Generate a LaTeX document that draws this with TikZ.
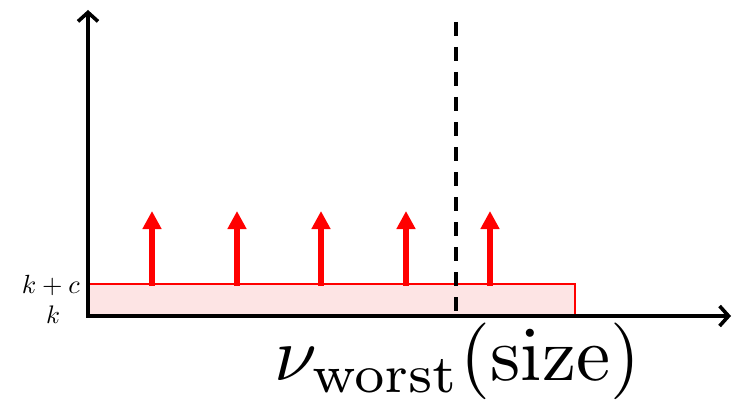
\documentclass[tikz,border=0pt]{standalone}
\usetikzlibrary{arrows.meta}
\definecolor{pinkfill}{HTML}{FDE4E4}
\begin{document}
\begin{tikzpicture}[x=1pt,y=-1pt,
  axis/.style={line width=3.6pt,-{Straight Barb[length=9pt,width=20pt]}},
  redarrow/.style={red,line width=6pt,-{Triangle[length=18pt,width=18pt]}},
  lbl/.style={inner sep=0pt}]
\useasboundingbox (0,0) rectangle (734,404);
\coordinate (o) at (88,316);
\coordinate (ytop) at (88,10);
\coordinate (xend) at (731,316);
\coordinate (dtop) at (456,22);
\coordinate (dbot) at (456,316);
\node[draw=red,line width=1.8pt,fill=pinkfill,minimum width=486pt,minimum height=31pt,anchor=south west,inner sep=0pt] (band) at (88,316) {};
\draw[line width=3.2pt,dash pattern=on 14pt off 11pt] (dtop) -- (dbot);
\foreach \i/\x in {1/152,2/237,3/321,4/406,5/490}{
  \coordinate (b\i) at (\x,285.5);
  \coordinate (t\i) at (\x,211);
  \draw[redarrow] (b\i) -- (t\i);
}
\draw[axis] (86,316) -- (xend);
\draw[axis] (88,317.8) -- (ytop);
\node[lbl,anchor=base east] (kc) at (80,293) {\resizebox{58pt}{!}{$k+c$}};
\node[lbl,anchor=base west] (k) at (46,323) {\resizebox{14pt}{!}{$k$}};
\node[inner sep=0pt,anchor=north west] (nu) at (274,323) {\resizebox{366pt}{!}{$\nu_{\mathrm{worst}}(\mathrm{size})$}};
\end{tikzpicture}
\end{document}
